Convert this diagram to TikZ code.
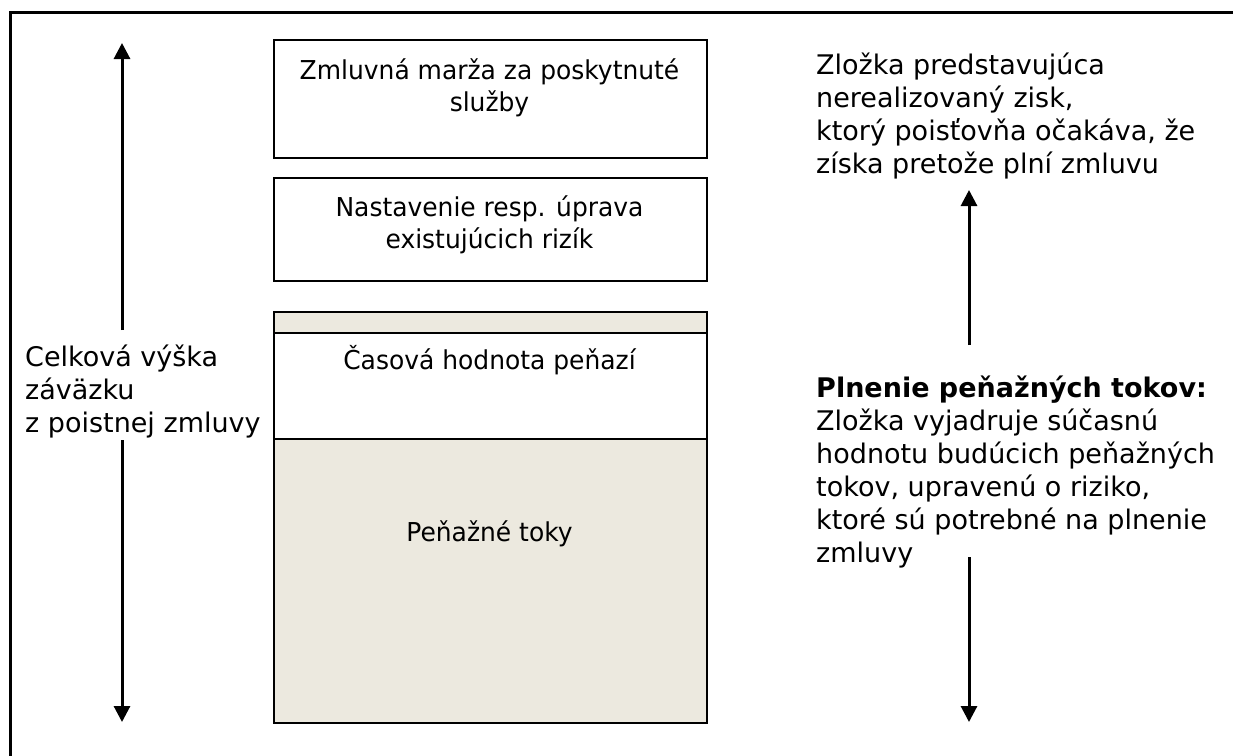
\documentclass[tikz,border=0pt]{standalone}
\usepackage{fontspec}
\setmainfont{DejaVu Sans}
\newfontfamily\boxfont[FakeStretch=0.96]{DejaVu Sans}
\usetikzlibrary{arrows.meta}
\definecolor{beige}{RGB}{236,233,223}
\newcommand{\tallstrut}{\rule{0pt}{28pt}}
\begin{document}
\begin{tikzpicture}[x=1pt,y=-1pt,
  boxst/.style={draw=black, line width=2pt, minimum width=433pt, inner sep=0pt, anchor=north west},
  txt/.style={inner sep=0pt, font=\fontsize{27}{33}\selectfont},
  boxtxt/.style={inner sep=0pt, anchor=north, align=center, font=\boxfont\fontsize{26}{32}\selectfont},
  arr/.style={line width=3pt, -{Triangle[width=16pt,length=16pt]}},
  framest/.style={line width=3pt}]
\useasboundingbox (0,0) rectangle (1238,755);
\draw[framest] (10,760) -- (10,12) -- (1233,12);

% boxes
\node[boxst, minimum height=118pt] (b1) at (273,39) {};
\node[boxst, minimum height=103pt] (b2) at (273,177) {};
\node[boxst, minimum height=411pt, fill=beige] (b3) at (273,311) {};
\node[boxst, minimum height=106pt, fill=white] (band) at (273,332) {};

% box texts
\node[boxtxt] (t1) at (489.5,51) {\tallstrut Zmluvná marža za poskytnuté\\služby};
\node[boxtxt] (t2) at (489.5,188) {\tallstrut Nastavenie resp. úprava\\existujúcich rizík};
\node[boxtxt] (t3) at (489.5,341) {\tallstrut Časová hodnota peňazí};
\node[boxtxt] (t4) at (489.5,513) {\tallstrut Peňažné toky};

% side texts
\node[txt, anchor=north west, align=left] (lt) at (25,338) {\tallstrut Celková výška\\záväzku\\z poistnej zmluvy};
\node[txt, anchor=north west, align=left] (rt1) at (816,46) {\tallstrut Zložka predstavujúca\\nerealizovaný zisk,\\ktorý poisťovňa očakáva, že\\získa pretože plní zmluvu};
\node[txt, anchor=north west, align=left] (rt2) at (816,369) {\tallstrut\textbf{Plnenie peňažných tokov:}\\Zložka vyjadruje súčasnú\\hodnotu budúcich peňažných\\tokov, upravenú o riziko,\\ktoré sú potrebné na plnenie\\zmluvy};

% arrows
\coordinate (ls1) at (122,330);
\coordinate (ltop) at (122,43);
\coordinate (ls2) at (122,440);
\coordinate (lbot) at (122,722);
\coordinate (rs1) at (969,345);
\coordinate (rtop) at (969,190);
\coordinate (rs2) at (969,557);
\coordinate (rbot) at (969,722);
\draw[arr] (ls1) -- (ltop);
\draw[arr] (ls2) -- (lbot);
\draw[arr] (rs1) -- (rtop);
\draw[arr] (rs2) -- (rbot);
\end{tikzpicture}
\end{document}
